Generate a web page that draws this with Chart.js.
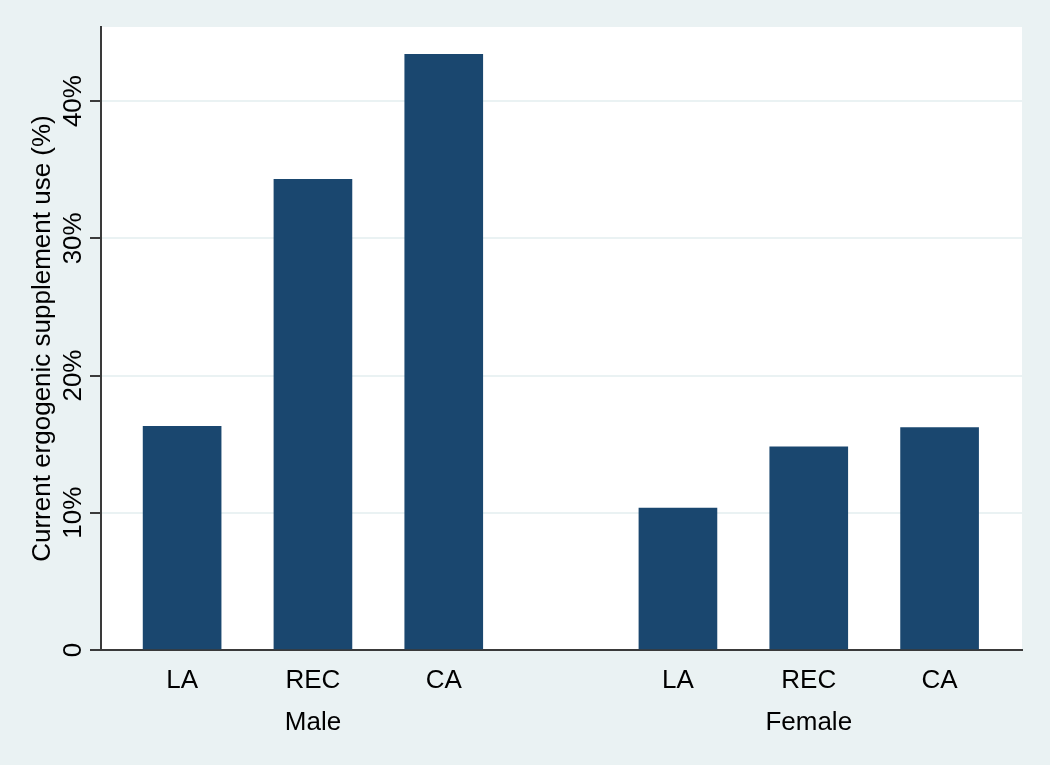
<!DOCTYPE html>
<html>
<head>
<meta charset="utf-8">
<script src="https://cdn.jsdelivr.net/npm/chart.js@4/dist/chart.umd.min.js"></script>
<style>
	html, body { margin: 0; padding: 0; background: #eaf2f3; }
	#wrap { width: 1050px; height: 765px; position: relative; }
</style>
</head>
<body>
<div id="wrap"><canvas id="supChart"></canvas></div>
<script>
// data
var groups = ['Male', 'Female'];
var categories = ['LA', 'REC', 'CA'];
var maleValues = [16.3, 34.3, 43.4];
var femaleValues = [10.35, 14.8, 16.2];
var yTicks = [0, 10, 20, 30, 40];
var yTitle = 'Current ergogenic supplement use (%)';

// layout: gap between groups, in bar slots
var groupGap = 1.79;
var navy = '#1a476f';
var axisColor = '#3a3a3a';
var font = { family: '"Liberation Sans", Arial, sans-serif', size: 26 };

var seriesByGroup = [maleValues, femaleValues];
var barPts = [];
var catPos = [];
var catLabels = [];
var groupPos = [];
var step = categories.length - 1 + groupGap;

for (var g = 0; g < groups.length; g++) {
	for (var i = 0; i < categories.length; i++) {
		var x = g * step + i;
		barPts.push({ x: x, y: seriesByGroup[g][i] });
		catPos.push(x);
		catLabels.push(categories[i]);
	}
	groupPos.push(g * step + (categories.length - 1) / 2);
}

var xMin = -0.62;
var xMax = (groups.length - 1) * step + categories.length - 1 + 0.63;

var plotBg = {
	id: 'plotBg',
	beforeDraw: function(chart) {
		var a = chart.chartArea;
		var ctx = chart.ctx;
		ctx.save();
		ctx.fillStyle = '#ffffff';
		ctx.fillRect(a.left, a.top, a.right - a.left, a.bottom - a.top);
		ctx.restore();
	}
};

var ctx = document.getElementById('supChart').getContext('2d');
new Chart(ctx, {
	type: 'bar',
	data: {
		datasets: [{
			data: barPts,
			backgroundColor: navy,
			borderWidth: 0,
			barThickness: 78
		}]
	},
	options: {
		responsive: true,
		maintainAspectRatio: false,
		animation: false,
		layout: { padding: { left: 0, right: 28, top: 27, bottom: 0 } },
		plugins: {
			legend: { display: false },
			tooltip: { enabled: false }
		},
		scales: {
			x: {
				type: 'linear',
				position: 'bottom',
				offset: false,
				min: xMin,
				max: xMax,
				afterBuildTicks: function(scale) {
					scale.ticks = catPos.map(function(v) { return { value: v }; });
				},
				afterFit: function(scale) { scale.height = 46; },
				grid: { display: false, offset: false },
				border: { display: true, color: axisColor, width: 2 },
				ticks: {
					autoSkip: false,
					maxRotation: 0,
					padding: 7,
					color: '#000',
					font: font,
					callback: function(v, idx) { return catLabels[idx]; }
				}
			},
			x2: {
				type: 'linear',
				position: 'bottom',
				offset: false,
				min: xMin,
				max: xMax,
				afterBuildTicks: function(scale) {
					scale.ticks = groupPos.map(function(v) { return { value: v }; });
				},
				afterFit: function(scale) { scale.height = 69; },
				grid: { display: false, offset: false },
				border: { display: false },
				ticks: {
					autoSkip: false,
					maxRotation: 0,
					padding: 3,
					color: '#000',
					font: font,
					callback: function(v, idx) { return groups[idx]; }
				}
			},
			y: {
				type: 'linear',
				min: 0,
				max: 45.4,
				afterBuildTicks: function(scale) {
					scale.ticks = yTicks.map(function(v) { return { value: v }; });
				},
				afterFit: function(scale) { scale.width = 101; },
				grid: {
					color: function(c) { return c.tick && c.tick.value === 0 ? 'rgba(0,0,0,0)' : '#eaf2f3'; },
					lineWidth: 2,
					drawTicks: true,
					tickLength: 11,
					tickColor: axisColor,
					tickWidth: 2
				},
				border: { display: true, color: axisColor, width: 2 },
				title: {
					display: true,
					text: yTitle,
					color: '#000',
					font: font,
					padding: { top: 27, bottom: 0 }
				},
				ticks: {
					minRotation: 90,
					maxRotation: 90,
					crossAlign: 'center',
					padding: -10,
					color: '#000',
					font: font,
					callback: function(v) { return v === 0 ? '0' : v + '%'; }
				}
			}
		}
	},
	plugins: [plotBg]
});
</script>
</body>
</html>
